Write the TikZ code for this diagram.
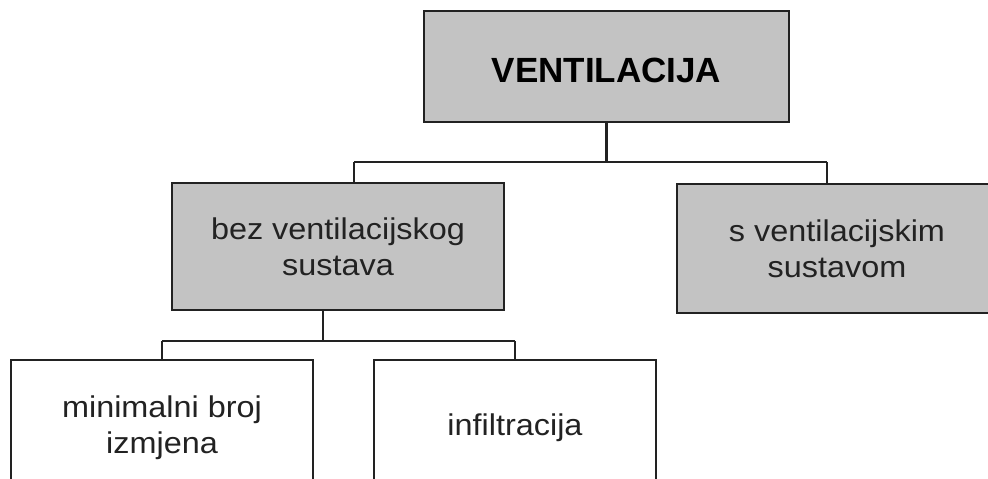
\documentclass[tikz,border=0pt]{standalone}
\usepackage{fontspec}
\setmainfont{Liberation Sans}[FakeStretch=1.08]
\newfontfamily\headfont{Liberation Sans}
\usetikzlibrary{backgrounds}
\pgfdeclarelayer{edgelayer}
\pgfdeclarelayer{nodelayer}
\pgfsetlayers{edgelayer,nodelayer,main}
\definecolor{boxgrey}{HTML}{C3C3C3}
\definecolor{ink}{HTML}{222222}
\tikzset{font=\fontsize{30}{36}\selectfont}
\tikzstyle{none}=[inner sep=0pt]
\tikzstyle{grey box}=[rectangle,draw=ink,line width=2.2pt,fill=boxgrey,text=ink,align=center,inner sep=0pt]
\tikzstyle{white box}=[rectangle,draw=ink,line width=2.2pt,fill=white,text=ink,align=center,inner sep=0pt]
\tikzstyle{wire}=[draw=ink,line width=2.2pt]

\begin{document}
\begin{tikzpicture}[x=1pt,y=-1pt]
	\useasboundingbox (0,0) rectangle (988,479);
	\begin{pgfonlayer}{nodelayer}
		\node [style=grey box,minimum width=365pt,minimum height=111pt,text height=33pt,font=\headfont\bfseries\fontsize{35}{40}\selectfont,text=black] (0) at (606.5,66.5) {VENTILACIJA};
		\node [style=grey box,minimum width=332pt,minimum height=127pt] (1) at (338,246.5) {bez ventilacijskog\\sustava};
		\node [style=grey box,minimum width=320pt,minimum height=129pt] (2) at (837,248.5) {s ventilacijskim\\sustavom};
		\node [style=white box,minimum width=302pt,minimum height=136pt] (3) at (162,428) {minimalni broj\\izmjena};
		\node [style=white box,minimum width=282pt,minimum height=136pt] (4) at (515,428) {infiltracija};
		\node [style=none] (5) at (606.5,162) {};
		\node [style=none] (6) at (354,162) {};
		\node [style=none] (7) at (827,162) {};
		\node [style=none] (8) at (323,341) {};
		\node [style=none] (9) at (162,341) {};
		\node [style=none] (10) at (515,341) {};
	\end{pgfonlayer}
	\begin{pgfonlayer}{edgelayer}
		\draw [style=wire] (0.south) to (5.center);
		\draw [style=wire] (6.center) to (7.center);
		\draw [style=wire] (6.center) to (6.center |- 1.north);
		\draw [style=wire] (7.center) to (7.center |- 2.north);
		\draw [style=wire] (8.center |- 1.south) to (8.center);
		\draw [style=wire] (9.center) to (10.center);
		\draw [style=wire] (9.center) to (9.center |- 3.north);
		\draw [style=wire] (10.center) to (10.center |- 4.north);
	\end{pgfonlayer}
\end{tikzpicture}
\end{document}
